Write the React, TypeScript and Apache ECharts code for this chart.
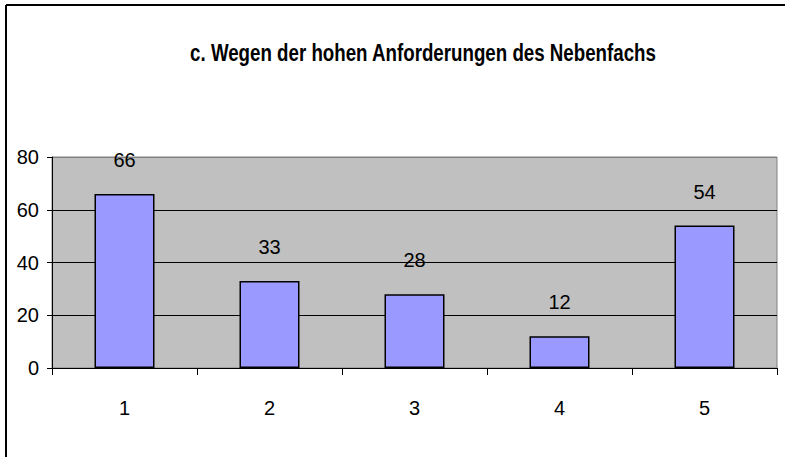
import React, { useEffect, useRef } from "react";
import * as echarts from "echarts";

const titleText = "c. Wegen der hohen Anforderungen des Nebenfachs";
const categories = ["1", "2", "3", "4", "5"];
const values = [66, 33, 28, 12, 54];
const yMin = 0;
const yMax = 80;
const yInterval = 20;

const FONT = "'Liberation Sans', Arial, sans-serif";

export default function App() {
  const ref = useRef<HTMLDivElement>(null);
  useEffect(() => {
    if (!ref.current) return;
    const chart = echarts.init(ref.current, undefined, { renderer: "svg" });
    chart.setOption({
      animation: false,
      backgroundColor: "#ffffff",
      graphic: [
        { type: "line", shape: { x1: 6, y1: 5, x2: 785, y2: 5 }, style: { stroke: "#000", lineWidth: 2 } },
        { type: "line", shape: { x1: 6, y1: 5, x2: 6, y2: 457 }, style: { stroke: "#000", lineWidth: 2 } },
        {
          type: "text",
          x: 423,
          y: 53,
          scaleX: 0.78,
          style: {
            text: titleText,
            fontFamily: FONT,
            fontSize: 24,
            fontWeight: "bold",
            fill: "#000",
            align: "center",
            verticalAlign: "middle",
          },
        },
      ],
      grid: {
        left: 52,
        right: 8,
        top: 157,
        bottom: 89,
        show: true,
        backgroundColor: "#C0C0C0",
        borderColor: "#808080",
        borderWidth: 1,
      },
      xAxis: {
        type: "category",
        data: categories,
        boundaryGap: true,
        axisLine: { show: true, lineStyle: { color: "#000", width: 1 } },
        axisTick: { show: true, length: 7, alignWithLabel: false, lineStyle: { color: "#000" } },
        axisLabel: { margin: 30, fontFamily: FONT, fontSize: 20, color: "#000" },
      },
      yAxis: {
        type: "value",
        min: yMin,
        max: yMax,
        interval: yInterval,
        axisLine: { show: true, lineStyle: { color: "#000", width: 1 } },
        axisTick: { show: true, length: 5, lineStyle: { color: "#000" } },
        axisLabel: { margin: 13, fontFamily: FONT, fontSize: 20, color: "#000" },
        splitLine: {
          show: true,
          lineStyle: { color: ["#000", "#000", "#000", "#000", "#808080"], width: 1 },
        },
      },
      series: [
        {
          type: "bar",
          data: values,
          barWidth: 60,
          itemStyle: { color: "#9999FF", borderColor: "#000", borderWidth: 1.5 },
          label: {
            show: true,
            position: "top",
            distance: 24,
            fontFamily: FONT,
            fontSize: 20,
            color: "#000",
          },
        },
      ],
    });
    return () => chart.dispose();
  }, []);
  return (
    <div
      ref={ref}
      style={{ position: "absolute", left: 0, top: 0, width: 785, height: 457 }}
    />
  );
}
